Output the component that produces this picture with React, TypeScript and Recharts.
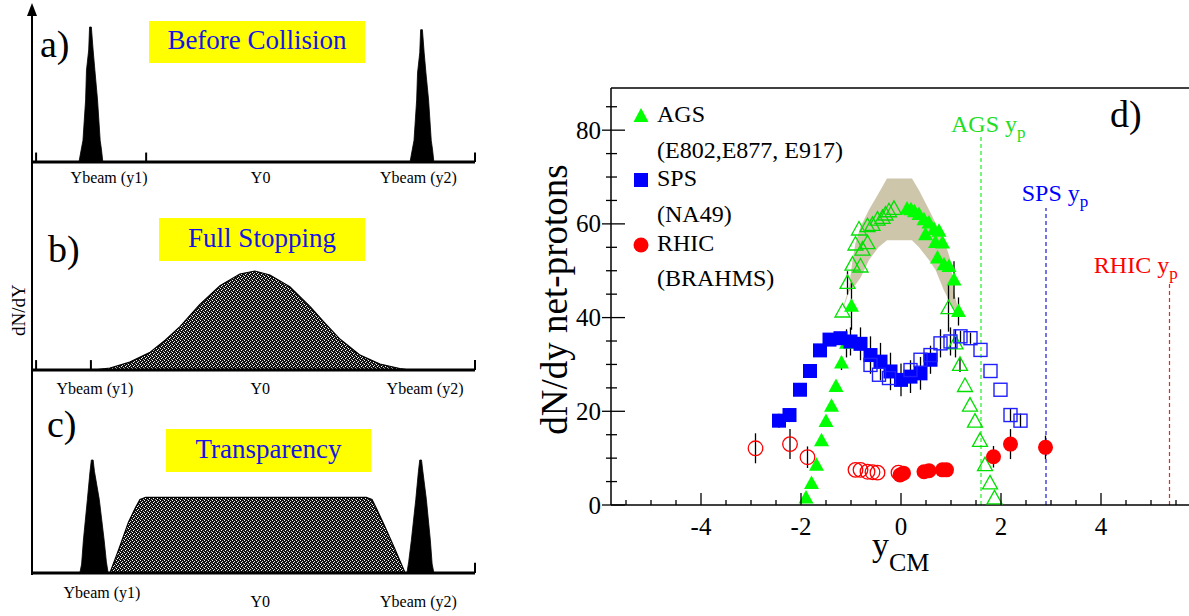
import React from 'react';
import { ComposedChart, Area, XAxis, YAxis, Scatter, ErrorBar, ReferenceLine, Legend } from 'recharts';

const FONT = "'Liberation Serif', 'Times New Roman', Times, serif";

// ---------------- schematic panels a) b) c) : x in 0..100, height in % ----------------
const tickLabels = ['Ybeam (y1)', 'Y0', 'Ybeam (y2)'];

const aPeakX = [0, 10.4, 10.9, 11.3, 11.9, 12.1, 12.6, 12.8, 13.2, 13.6, 14.0, 14.6, 15.2, 15.5, 15.8, 85.3, 85.8, 86.2, 86.8, 87.0, 87.5, 87.7, 88.1, 88.5, 88.9, 89.5, 90.1, 90.4, 90.7, 100];
const aPeakY = [0, 0, 9, 16, 46, 68, 83, 100, 100, 83, 68, 46, 16, 9, 0, 0, 9, 16, 46, 66, 81, 98, 98, 81, 66, 46, 16, 9, 0, 0];
const aTicks = [17.2, 51.5, 87.2];

const bStopX = [0, 13.6, 17.4, 21.9, 26.5, 29.9, 33.3, 37.7, 42.3, 46.8, 50.2, 53.6, 58.1, 62.7, 66.1, 69.5, 74.0, 78.5, 83.0, 85.3, 100];
const bStopY = [0, 0, 2, 8, 18, 30, 44, 66, 85, 97, 100, 96, 84, 64, 47, 31, 15, 6, 1.5, 0, 0];
const bTicks = [14.0, 51.4, 88.7];

const cPeakX = [0, 10.6, 11.0, 11.4, 12.3, 12.9, 13.2, 13.6, 13.9, 15.0, 16.1, 16.6, 17.0, 84.6, 85.0, 85.6, 86.6, 87.2, 87.5, 87.9, 88.2, 89.0, 89.9, 90.3, 90.7, 100];
const cPeakY = [0, 0, 8, 29, 65, 90, 100, 100, 90, 65, 29, 10, 0, 0, 10, 29, 65, 90, 100, 100, 90, 65, 29, 8, 0, 0];
const cPlatX = [17.4, 19.5, 21.6, 23.2, 24.2, 25.5, 75.4, 76.7, 77.6, 79.5, 81.8, 84.2];
const cPlatY = [0, 22, 45, 58, 65, 67, 67, 65, 58, 42, 22, 0];
const cTicks = [15.6, 51.4, 87.2];

const toRows = (xs: number[], ys: number[]) => xs.map((x, i) => ({ x, y: ys[i] }));

// ---------------- panel d) net-proton dN/dy ----------------
const bandX = [-1.15, -1.04, -0.97, -0.91, -0.81, -0.64, -0.45, -0.28, 0.22, 0.36, 0.56, 0.69, 0.85, 0.99, 1.05, 1.15];
const bandHi = [42.5, 46.3, 52.3, 55.9, 59.4, 63, 66.5, 69.7, 69.7, 67.2, 63, 60.2, 57, 52.3, 46, 41.5];
const bandLo = [42, 45.5, 46.5, 47, 48.5, 52.3, 55, 56.5, 56.5, 55, 52.3, 50.2, 46, 43, 42, 41];

const agsFX = [-1.90, -1.79, -1.69, -1.59, -1.50, -1.39, -1.30, -1.19, -1.09, -0.99, 0.12, 0.20, 0.27, 0.36, 0.46, 0.49, 0.56, 0.66, 0.69, 0.76, 0.83, 0.73, 0.86, 0.96, 1.06, 1.15];
const agsFY = [1.5, 4.6, 8.5, 13.7, 17.8, 21.1, 25.3, 30.3, 34.5, 42.4, 63.2, 63.0, 62.6, 62.0, 60.9, 57.7, 60.2, 58.8, 56.0, 58.4, 55.9, 52.7, 51.3, 50.9, 48.0, 41.3];
const agsFE = [0, 0, 0, 0, 0, 0, 0, 1.5, 3, 5, 0, 0, 0, 0, 0, 0, 0, 0, 0, 0, 0, 0, 0, 0, 4, 3];

const agsOX = [-1.17, -1.07, -0.97, -0.91, -0.84, -0.81, -0.77, -0.67, -0.67, -0.57, -0.47, -0.37, -0.31, -0.24, -0.14, 0.95, 1.09, 1.18, 1.28, 1.38, 1.48, 1.58, 1.68, 1.78, 1.87];
const agsOY = [41.3, 47.4, 51.3, 55.6, 58.8, 50.9, 54.5, 55.9, 59.5, 59.8, 60.9, 61.3, 62.0, 62.7, 63.2, 42.0, 34.5, 29.9, 25.4, 21.2, 17.8, 13.7, 8.5, 4.6, 1.4];
const agsOE = [0, 2.5, 0, 0, 0, 0, 0, 0, 0, 0, 0, 0, 0, 0, 0, 5, 3, 1.5, 0, 0, 0, 0, 0, 0, 0];

const spsFX = [-2.44, -2.23, -2.02, -1.82, -1.62, -1.43, -1.21, -1.01, -0.81, -0.61, -0.41, -0.21, 0.0, 0.19, 0.39, 0.59];
const spsFY = [18.0, 19.2, 24.6, 28.6, 33.0, 35.3, 35.6, 34.9, 34.4, 32.0, 30.6, 28.5, 26.7, 27.4, 28.1, 31.0];
const spsFE = [1.5, 1.5, 0, 0, 0, 1.2, 1.2, 3, 3.5, 4, 4, 4, 3.5, 3.5, 3.5, 3];

const spsOX = [-0.61, -0.44, -0.24, 0.19, 0.39, 0.59, 0.79, 0.99, 1.19, 1.39, 1.59, 1.79, 1.99, 2.19, 2.39];
const spsOY = [29.9, 27.8, 27.1, 28.8, 31.0, 32.0, 34.5, 34.9, 36.0, 35.6, 33.1, 28.6, 24.6, 19.2, 18.0];
const spsOE = [0, 0, 0, 0, 0, 0, 3, 3, 1.2, 1.2, 0, 0, 0, 1.5, 1.5];

const rhicFX = [-0.02, 0.05, 0.46, 0.56, 0.83, 0.91, 1.85, 2.19, 2.89];
const rhicFY = [6.4, 6.8, 7.1, 7.3, 7.5, 7.5, 10.3, 13.0, 12.3];
const rhicFE = [0, 0, 0, 0, 0, 0, 2.3, 3.2, 2.5];

const rhicOX = [-2.91, -2.22, -1.87, -0.91, -0.81, -0.67, -0.57, -0.47, -0.05];
const rhicOY = [12.1, 13.0, 10.2, 7.5, 7.5, 7.1, 7.0, 6.9, 6.9];
const rhicOE = [3.2, 3.2, 2.3, 0, 0, 0, 0, 0, 0];

const xTicks = [-5.5, -5, -4.5, -4, -3.5, -3, -2.5, -2, -1.5, -1, -0.5, 0, 0.5, 1, 1.5, 2, 2.5, 3, 3.5, 4, 4.5, 5, 5.5];
const xMajor = [-4, -2, 0, 2, 4];
const yTicks = [0, 5, 10, 15, 20, 25, 30, 35, 40, 45, 50, 55, 60, 65, 70, 75, 80, 85];
const yMajor = [0, 20, 40, 60, 80];

const legendNames = ['AGS', 'SPS', 'RHIC'];
const legendExps = ['(E802,E877, E917)', '(NA49)', '(BRAHMS)'];

const yp = { AGS: 1.6, SPS: 2.9, RHIC: 5.37 };
const ypTop = { AGS: 79, SPS: 63.4, RHIC: 47.6 };

const band = bandX.map((x, i) => ({ x, range: [bandLo[i], bandHi[i]] }));
const pts = (xs: number[], ys: number[], es: number[]) => xs.map((x, i) => ({ x, y: ys[i], err: es[i] }));

const GREEN = '#00ff00';
const BLUE = '#0000ff';
const RED = '#ff0000';

// marker shapes
const TriF = (p: any) => <polygon points={`${p.cx},${p.cy - 8} ${p.cx - 7.5},${p.cy + 5.5} ${p.cx + 7.5},${p.cy + 5.5}`} fill={GREEN} />;
const TriO = (p: any) => <polygon points={`${p.cx},${p.cy - 8} ${p.cx - 7.5},${p.cy + 5.5} ${p.cx + 7.5},${p.cy + 5.5}`} fill="none" stroke="#00e000" strokeWidth={1.3} />;
const SqF = (p: any) => <rect x={p.cx - 7} y={p.cy - 7} width={14} height={14} fill={BLUE} />;
const SqO = (p: any) => <rect x={p.cx - 6.5} y={p.cy - 6.5} width={13} height={13} fill="none" stroke="#2020ff" strokeWidth={1.4} />;
const CiF = (p: any) => <circle cx={p.cx} cy={p.cy} r={7.5} fill={RED} />;
const CiO = (p: any) => <circle cx={p.cx} cy={p.cy} r={7.3} fill="none" stroke={RED} strokeWidth={1.3} />;

const makeLeftTick = (dys: number[]) => (p: any) => {
  const i = typeof p.index === 'number' ? p.index : 0;
  return (
    <text x={p.x} y={p.y + dys[i]} textAnchor="middle" fontSize={16} fontFamily={FONT} fill="#000">
      {tickLabels[i]}
    </text>
  );
};

const Dither = ({ id }: { id: string }) => (
  <defs>
    <pattern id={id} width="4" height="4" patternUnits="userSpaceOnUse">
      <rect width="4" height="4" fill="#111" />
      <rect x="0" y="0" width="1" height="1" fill="#fff" />
      <rect x="2" y="1" width="1" height="1" fill="#ddd" />
      <rect x="1" y="2" width="1" height="1" fill="#fff" />
      <rect x="3" y="3" width="1" height="1" fill="#bbb" />
    </pattern>
  </defs>
);

const DXTick = (p: any) => {
  const v = p.payload.value;
  const major = xMajor.indexOf(v) >= 0;
  return (
    <g>
      <line x1={p.x} x2={p.x} y1={p.y} y2={p.y - (major ? 12 : 5)} stroke="#000" strokeWidth={1.3} />
      {major && (
        <text x={p.x} y={p.y + 30} textAnchor="middle" fontSize={25} fontFamily={FONT} fill="#000">{v}</text>
      )}
    </g>
  );
};

const DYTick = (p: any) => {
  const v = p.payload.value;
  const major = yMajor.indexOf(v) >= 0;
  return (
    <g>
      <line x1={p.x - (major ? 9 : 5)} x2={p.x + (major ? 14 : 6)} y1={p.y} y2={p.y} stroke="#000" strokeWidth={1.3} />
      {major && (
        <text x={p.x - 10} y={p.y} dy="0.34em" textAnchor="end" fontSize={25} fontFamily={FONT} fill="#000">{v}</text>
      )}
    </g>
  );
};

const ypLabel = (name: string, color: string, dx: number, dy: number) => (props: any) => {
  const vb = props.viewBox || { x: 0, y: 0 };
  return (
    <text x={vb.x + dx} y={vb.y + dy} fill={color} fontFamily={FONT} fontSize={24}>
      {name} y<tspan fontSize={17} dy={6}>p</tspan>
    </text>
  );
};

const LegendMarker = ({ i }: { i: number }) => {
  if (i === 0) return <polygon points="8,0 0.5,14 15.5,14" fill={GREEN} />;
  if (i === 1) return <rect x={1} y={1} width={14} height={14} fill={BLUE} />;
  return <circle cx={8} cy={8} r={7.5} fill={RED} />;
};

const LegendBox = () => (
  <div style={{ position: 'relative', width: 260, height: 200, fontFamily: FONT, fontSize: 24, color: '#000' }}>
    {legendNames.map((n, i) => (
      <React.Fragment key={n}>
        <svg style={{ position: 'absolute', left: 2.5, top: 7.5 + i * 64.5 }} width={16} height={16}>
          <LegendMarker i={i} />
        </svg>
        <div style={{ position: 'absolute', left: 27, top: 1.8 + i * 64.5, lineHeight: '24px', whiteSpace: 'nowrap' }}>{n}</div>
        <div style={{ position: 'absolute', left: 27, top: 37.8 + i * 64, lineHeight: '24px', whiteSpace: 'nowrap' }}>{legendExps[i]}</div>
      </React.Fragment>
    ))}
  </div>
);

const boxStyle = (left: number, top: number, w: number, h: number): React.CSSProperties => ({
  position: 'absolute', left, top, width: w, height: h, background: '#ffff00', color: '#1414e6',
  fontFamily: FONT, fontSize: 27, display: 'flex', alignItems: 'center', justifyContent: 'center',
  paddingBottom: 3, boxSizing: 'border-box', whiteSpace: 'nowrap',
});

const letterStyle = (left: number, top: number): React.CSSProperties => ({
  position: 'absolute', left, top, fontFamily: FONT, fontSize: 38, lineHeight: '38px', color: '#000',
});

export default function App() {
  const axisBase = { stroke: '#000', strokeWidth: 3 };
  return (
    <div style={{ position: 'absolute', left: 0, top: 0, width: 1189, height: 616, overflow: 'hidden', background: '#fff', fontFamily: FONT }}>
      {/* panel a */}
      <div style={{ position: 'absolute', left: 0, top: 0 }}>
        <ComposedChart width={480} height={200} margin={{ top: 27, right: 5, left: 33, bottom: 0 }}>
          <XAxis type="number" dataKey="x" domain={[0, 100]} ticks={aTicks} interval={0} height={38}
            axisLine={axisBase} tickLine={false} tickSize={0} tickMargin={0} tick={makeLeftTick([21, 21, 21])} />
          <YAxis type="number" dataKey="y" domain={[0, 100]} hide />
          <Area data={toRows(aPeakX, aPeakY)} dataKey="y" type="linear" fill="#000" fillOpacity={1} stroke="#000" strokeWidth={0.8} isAnimationActive={false} />
          <ReferenceLine segment={[{ x: 0.7, y: 0 }, { x: 0.7, y: 7 }]} stroke="#000" strokeWidth={2} />
          <ReferenceLine segment={[{ x: 25.6, y: 0 }, { x: 25.6, y: 7 }]} stroke="#000" strokeWidth={2} />
          <ReferenceLine segment={[{ x: 100, y: 0 }, { x: 100, y: 7 }]} stroke="#000" strokeWidth={2} />
        </ComposedChart>
      </div>
      {/* panel b */}
      <div style={{ position: 'absolute', left: 0, top: 200 }}>
        <ComposedChart width={480} height={200} margin={{ top: 71, right: 5, left: 33, bottom: 0 }}>
          <Dither id="ditherB" />
          <XAxis type="number" dataKey="x" domain={[0, 100]} ticks={bTicks} interval={0} height={30}
            axisLine={axisBase} tickLine={false} tickSize={0} tickMargin={0} tick={makeLeftTick([24, 24, 24])} />
          <YAxis type="number" dataKey="y" domain={[0, 100]} hide />
          <Area data={toRows(bStopX, bStopY)} dataKey="y" type="linear" fill="url(#ditherB)" fillOpacity={1} stroke="#000" strokeWidth={1.2} isAnimationActive={false} />
          <ReferenceLine segment={[{ x: 0.7, y: 0 }, { x: 0.7, y: 10 }]} stroke="#000" strokeWidth={2} />
          <ReferenceLine segment={[{ x: 13.1, y: 0 }, { x: 13.1, y: 10 }]} stroke="#000" strokeWidth={2} />
          <ReferenceLine segment={[{ x: 100, y: 0 }, { x: 100, y: 10 }]} stroke="#000" strokeWidth={2} />
        </ComposedChart>
      </div>
      {/* panel c */}
      <div style={{ position: 'absolute', left: 0, top: 400 }}>
        <ComposedChart width={480} height={216} margin={{ top: 60, right: 5, left: 33, bottom: 0 }}>
          <Dither id="ditherC" />
          <XAxis type="number" dataKey="x" domain={[0, 100]} ticks={cTicks} interval={0} height={43}
            axisLine={axisBase} tickLine={false} tickSize={0} tickMargin={0} tick={makeLeftTick([25, 34, 34])} />
          <YAxis type="number" dataKey="y" domain={[0, 100]} hide />
          <Area data={toRows(cPlatX, cPlatY)} dataKey="y" type="linear" fill="url(#ditherC)" fillOpacity={1} stroke="#000" strokeWidth={1.2} isAnimationActive={false} />
          <Area data={toRows(cPeakX, cPeakY)} dataKey="y" type="linear" fill="#000" fillOpacity={1} stroke="#000" strokeWidth={0.8} isAnimationActive={false} />
          <ReferenceLine segment={[{ x: 100, y: 0 }, { x: 100, y: 9 }]} stroke="#000" strokeWidth={2} />
        </ComposedChart>
      </div>

      {/* vertical dN/dY axis of the schematic panels */}
      <div style={{ position: 'absolute', left: 31, top: 14, width: 2, height: 561, background: '#000' }} />
      <div style={{ position: 'absolute', left: 27, top: 3, width: 0, height: 0, borderLeft: '5px solid transparent', borderRight: '5px solid transparent', borderBottom: '13px solid #000' }} />
      <div style={{ position: 'absolute', left: -21, top: 300, width: 80, height: 20, lineHeight: '20px', fontSize: 19, textAlign: 'center', transform: 'rotate(-90deg)', fontFamily: FONT }}>dN/dY</div>

      <div style={letterStyle(40, 25)}>a)</div>
      <div style={letterStyle(48, 230)}>b)</div>
      <div style={letterStyle(47, 405)}>c)</div>
      <div style={boxStyle(149, 21, 216, 42)}>Before Collision</div>
      <div style={boxStyle(159, 218, 206, 43)}>Full Stopping</div>
      <div style={boxStyle(166, 429, 205, 43)}>Transparency</div>

      {/* panel d */}
      <div style={{ position: 'absolute', left: 520, top: 60 }}>
        <ComposedChart width={680} height={556} data={band} margin={{ top: 28, right: 9, left: 31, bottom: 71 }}>
          <XAxis type="number" dataKey="x" domain={[-5.8, 5.8]} ticks={xTicks} interval={0} height={40}
            allowDataOverflow axisLine={{ stroke: '#000', strokeWidth: 1.5 }} tickLine={false} tickSize={0} tickMargin={0} tick={DXTick}
            label={{
              content: (p: any) => {
                const vb = p.viewBox || { x: 0, y: 0, width: 0 };
                return (
                  <text x={vb.x + vb.width / 2 - 29} y={vb.y + 51} fontFamily={FONT} fill="#000">
                    <tspan fontSize={34}>y</tspan>
                    <tspan fontSize={26} dy={15}>CM</tspan>
                  </text>
                );
              },
            }} />
          <YAxis type="number" dataKey="y" domain={[0, 89]} ticks={yTicks} interval={0} width={60}
            allowDataOverflow axisLine={{ stroke: '#000', strokeWidth: 1.5 }} tickLine={false} tickSize={0} tickMargin={0} tick={DYTick}
            label={{
              content: (p: any) => {
                const vb = p.viewBox || { x: 0, y: 0, height: 0 };
                const cx = vb.x + 15.7;
                const cy = vb.y + vb.height / 2 + 3;
                return (
                  <text transform={`translate(${cx},${cy}) rotate(-90)`} textAnchor="middle" fontSize={37} fontFamily={FONT} fill="#000">
                    dN/dy net-protons
                  </text>
                );
              },
            }} />
          <ReferenceLine y={89} stroke="#000" strokeWidth={1.5} />
          <Area dataKey="range" type="linear" fill="#cdc6ab" fillOpacity={1} stroke="none" isAnimationActive={false} />

          <ReferenceLine segment={[{ x: yp.AGS, y: 0 }, { x: yp.AGS, y: ypTop.AGS }]} stroke="#22ee22" strokeWidth={1.2} strokeDasharray="4 3"
            label={ypLabel('AGS', '#22dd22', -30, -3)} />
          <ReferenceLine segment={[{ x: yp.SPS, y: 0 }, { x: yp.SPS, y: ypTop.SPS }]} stroke="#1a1ad0" strokeWidth={1.2} strokeDasharray="4 3"
            label={ypLabel('SPS', BLUE, -24.3, -7.3)} />
          <ReferenceLine segment={[{ x: yp.RHIC, y: 0 }, { x: yp.RHIC, y: ypTop.RHIC }]} stroke="#ee2222" strokeWidth={1.2} strokeDasharray="4 3"
            label={ypLabel('RHIC', RED, -75.7, -9.3)} />

          <Scatter data={pts(agsOX, agsOY, agsOE)} shape={TriO} isAnimationActive={false}>
            <ErrorBar dataKey="err" direction="y" width={0} stroke="#000" strokeWidth={1.3} />
          </Scatter>
          <Scatter data={pts(agsFX, agsFY, agsFE)} shape={TriF} isAnimationActive={false}>
            <ErrorBar dataKey="err" direction="y" width={0} stroke="#000" strokeWidth={1.3} />
          </Scatter>
          <Scatter data={pts(spsFX, spsFY, spsFE)} shape={SqF} isAnimationActive={false}>
            <ErrorBar dataKey="err" direction="y" width={0} stroke="#000" strokeWidth={1.3} />
          </Scatter>
          <Scatter data={pts(spsOX, spsOY, spsOE)} shape={SqO} isAnimationActive={false}>
            <ErrorBar dataKey="err" direction="y" width={0} stroke="#000" strokeWidth={1.3} />
          </Scatter>
          <Scatter data={pts(rhicOX, rhicOY, rhicOE)} shape={CiO} isAnimationActive={false}>
            <ErrorBar dataKey="err" direction="y" width={0} stroke="#000" strokeWidth={1.3} />
          </Scatter>
          <Scatter data={pts(rhicFX, rhicFY, rhicFE)} shape={CiF} isAnimationActive={false}>
            <ErrorBar dataKey="err" direction="y" width={0} stroke="#000" strokeWidth={1.3} />
          </Scatter>

          <Legend layout="vertical" align="center" verticalAlign="middle" content={() => <LegendBox />}
            wrapperStyle={{ left: 110, top: 40, width: 260, height: 200 }} />
        </ComposedChart>
      </div>
      <div style={letterStyle(1110, 95)}>d)</div>
    </div>
  );
}
